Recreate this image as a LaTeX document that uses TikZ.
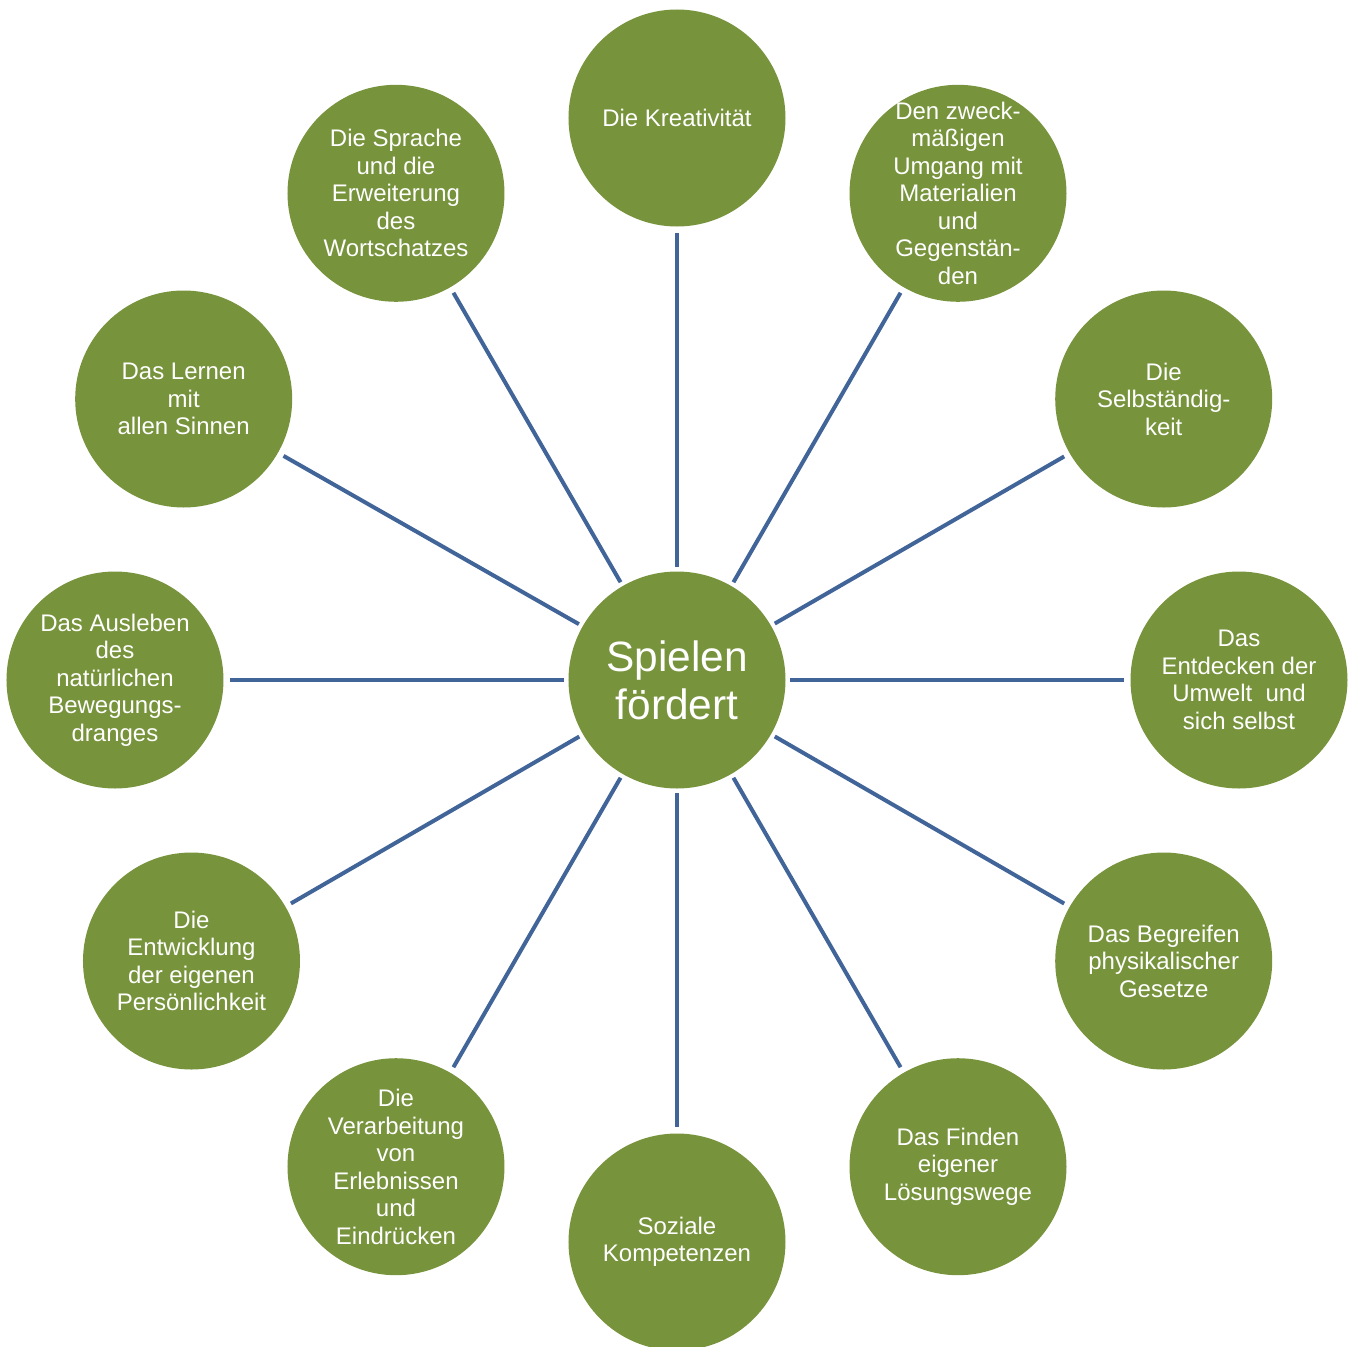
\documentclass[tikz,border=0pt]{standalone}
\usepackage{fontspec}
\setmainfont{Liberation Sans}
\definecolor{leafgreen}{RGB}{119,147,60}
\definecolor{spokeblue}{RGB}{65,101,152}
\tikzset{
  bubble/.style={circle, fill=leafgreen, minimum size=108.5pt, inner sep=-10pt,
    outer sep=3.2pt, text=white, align=center, font=\fontsize{12}{13.75}\selectfont},
  spoke/.style={draw=spokeblue, line width=2pt}
}
\begin{document}
\begin{tikzpicture}
\useasboundingbox (-338.5pt,-333pt) rectangle (335.5pt,340pt);
% centre circle
\node[bubble, outer sep=2.2pt, font=\fontsize{21.2}{24}\selectfont] (core) at (0,0) {Spielen\\fördert};

% outer ring with spokes
\foreach \ang/\dx/\nm/\txt in {
    90/0pt/kreativ/Die Kreativität,
    60/0pt/umgang/Den zweck-\\mäßigen\\Umgang mit\\Materialien\\und\\Gegenstän-\\den,
    30/0pt/selbst/Die\\Selbständig-\\keit,
    0/0pt/umwelt/Das\\Entdecken der\\Umwelt~ und\\sich selbst,
    -30/0pt/gesetze/Das Begreifen\\physikalischer\\Gesetze,
    -60/0pt/loesung/Das Finden\\eigener\\Lösungswege,
    -90/0pt/sozial/Soziale\\Kompetenzen,
    -120/0pt/erlebnis/Die\\Verarbeitung\\von\\Erlebnissen\\und\\Eindrücken,
    -150/0.6pt/person/Die\\Entwicklung\\der eigenen\\Persönlichkeit,
    180/0pt/bewegung/Das Ausleben\\des\\natürlichen\\Bewegungs-\\dranges,
    150/-3.3pt/sinne/Das Lernen\\mit\\allen Sinnen,
    120/0pt/sprache/Die Sprache\\und die\\Erweiterung\\des\\Wortschatzes} {
  \node[bubble, xshift=\dx] (\nm) at (\ang:281pt) {\txt};
  \draw[spoke] (core) -- (\nm);
}
\end{tikzpicture}
\end{document}
